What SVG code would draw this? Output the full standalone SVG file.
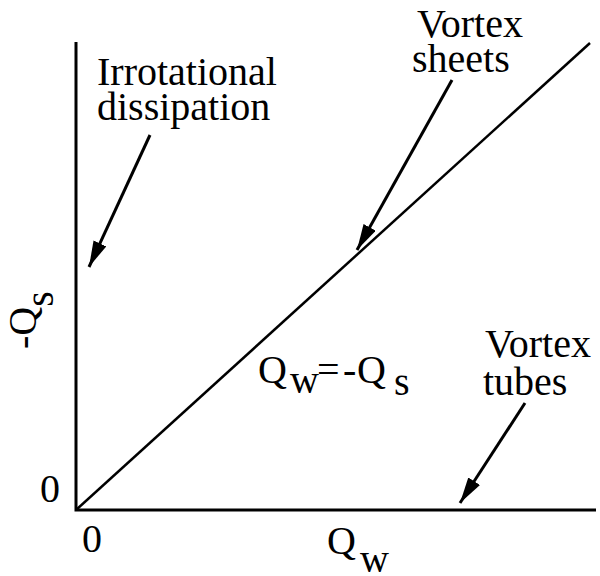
<svg xmlns="http://www.w3.org/2000/svg" width="600" height="576" viewBox="0 0 600 576">
<style>
.ax{stroke:#000;stroke-width:3;fill:none}
.ln{stroke:#000;stroke-width:2.5;fill:none}
.ar{stroke:#000;stroke-width:3;fill:none}
</style>
<defs>
<marker id="ah" markerUnits="userSpaceOnUse" markerWidth="28" markerHeight="16" refX="26" refY="7" orient="auto">
<path d="M0,0 L26,7 L0,14 Z" fill="#000"/>
</marker>
</defs>
<rect width="600" height="576" fill="#fff"/>
<g id="axes">
<path class="ax" d="M76,42 V510 H596"/>
</g>
<g id="connectors">
<path class="ln" d="M76,510 L590,43"/>
<path class="ar" d="M150,135 L89,267" marker-end="url(#ah)"/>
<path class="ar" d="M452,80 L357,250" marker-end="url(#ah)"/>
<path class="ar" d="M525,403 L460,503" marker-end="url(#ah)"/>
</g>
<g font-family="'Liberation Serif', 'DejaVu Serif', serif" font-size="40" fill="#000">
<g id="irrotational">
<text x="97" y="85">Irrotational</text>
<text x="97" y="120">dissipation</text>
</g>
<g id="sheets">
<text x="417" y="37">Vortex</text>
<text x="412" y="72">sheets</text>
</g>
<g id="tubes">
<text x="485" y="357">Vortex</text>
<text x="483" y="395">tubes</text>
</g>
<g id="equation">
<text x="258" y="383">Q</text>
<text x="290" y="393">w</text>
<text x="317" y="383">=</text>
<text x="343" y="383">-</text>
<text x="357" y="383">Q</text>
<text x="394" y="395">s</text>
</g>
<g id="labels">
<text x="40" y="502">0</text>
<text x="82" y="552">0</text>
<text x="327" y="554">Q</text>
<text x="360" y="572">w</text>
<text transform="translate(36,349) rotate(-90)">-Q<tspan dy="17">s</tspan></text>
</g>
</g>
</svg>
